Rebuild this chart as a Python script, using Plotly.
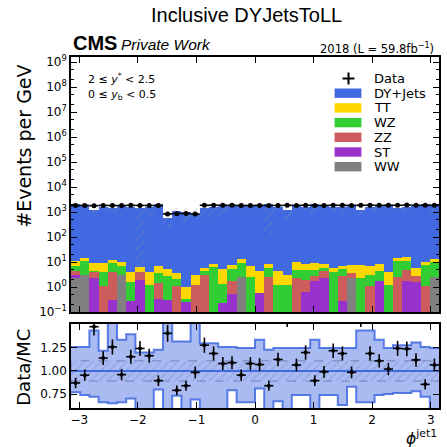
import numpy as np
import plotly.graph_objects as go

# ---------------- binning ----------------
n_bins = 40
edges = np.linspace(-np.pi, np.pi, n_bins + 1)
centers = 0.5 * (edges[:-1] + edges[1:])
bin_w = edges[1] - edges[0]

# ---------------- event counts per bin ----------------
data_counts = [1800, 1830, 1790, 1840, 1820, 1810, 1850, 1830, 1820, 1800,
               840, 860, 870, 830, 1860, 1880, 1870, 1850, 1830, 1820,
               1840, 1800, 1830, 1850, 1840, 1860, 1820, 1830, 1870, 1850,
               1840, 1860, 1880, 1850, 1870, 1860, 1890, 1870, 1850, 1860]

dy_jets = [2058, 1902, 1200, 1605, 1432, 1875, 1598, 1464, 1558, 2004,
           591, 1085, 1035, 840, 1447, 1571, 1726, 1690, 1903, 1678,
           1716, 2134, 1622, 1168, 1718, 1542, 2025, 1839, 1527, 1548,
           1861, 1170, 1573, 1659, 1829, 1479, 1508, 1664, 2154, 1733]

tt = [4.1, 3.9, 4.9, 4.9, 2.4, 3.1, 2.4, 2.3, 2.8, 3.1,
      2.7, 1.45, 0.68, 1.73, 1.7, 2.3, 3.75, 2.3, 4.0, 4.2,
      3.6, 2.8, 3.4, 1.73, 5.4, 3.5, 4.2, 2.8, 1.8, 1.5,
      3.8, 5.1, 4.0, 3.9, 3.0, 3.5, 4.8, 3.0, 2.6, 2.9]

wz = [2.7, 7.6, 0.2, 3.1, 5.3, 4.0, 1.3, 0.0, 1.23, 2.15,
      2.4, 1.08, 0.045, 0.0, 1.1, 6.3, 1.12, 3.4, 6.5, 2.5,
      0.0, 3.3, 1.17, 1.17, 2.3, 2.74, 2.1, 1.6, 4.0, 2.7,
      0.0, 2.3, 1.83, 2.5, 1.17, 8.5, 6.4, 0.0, 6.3, 7.5]

zz = [1.3, 0.0, 1.7, 1.07, 3.7, 0.0, 0.0, 2.14, 0.0, 1.13,
      0.0, 1.07, 0.0, 1.17, 3.1, 0.0, 0.0, 1.16, 0.0, 0.0,
      0.0, 2.5, 0.0, 0.0, 2.3, 1.23, 1.06, 1.9, 0.0, 2.43,
      1.3, 0.0, 1.07, 0.0, 0.0, 2.5, 2.9, 1.22, 1.07, 0.0]

st = [0.4, 0.0, 2.3, 0.0, 0.29, 0.0, 0.28, 1.86, 0.0, 0.32,
      0.29, 0.0, 0.275, 0.0, 0.0, 0.0, 0.23, 0.54, 0.0, 0.0,
      0.59, 0.0, 0.0, 0.0, 0.0, 0.63, 1.74, 2.3, 0.0, 0.27,
      0.0, 0.0, 0.0, 1.7, 0.0, 0.0, 1.7, 1.58, 0.0, 0.0]

ww = [2.5, 3.0, 0.0, 0.0, 0.0, 2.9, 0.0, 0.0, 0.0, 0.0,
      0.0, 0.0, 0.0, 0.0, 0.0, 0.0, 0.0, 0.0, 2.4, 0.0,
      0.0, 0.0, 0.0, 0.0, 0.0, 0.0, 0.0, 0.0, 0.0, 0.0,
      2.3, 0.0, 0.0, 0.0, 0.0, 0.0, 0.0, 0.0, 0.0, 2.5]

# relative MC uncertainty envelope (upper / lower edge as a fraction of the MC total)
mc_rel_up = [1.26, 1.26, 1.44, 1.22, 1.70, 1.34, 1.40, 1.20, 1.20, 1.23,
             1.70, 1.32, 1.32, 1.70, 1.30, 1.30, 1.26, 1.26, 1.25, 1.25,
             1.34, 1.23, 1.25, 1.25, 1.25, 1.25, 1.34, 1.25, 1.25, 1.25,
             1.25, 1.44, 1.44, 1.34, 1.25, 1.28, 1.28, 1.31, 1.26, 1.25]
mc_rel_down = [0.77, 0.74, 0.72, 0.66, 0.65, 0.66, 0.70, 0.002, 0.40, 0.80,
               0.40, 0.73, 0.40, 0.69, 0.45, 0.45, 0.45, 0.79, 0.66, 0.66,
               0.81, 0.06, 0.67, 0.45, 0.74, 0.74, 0.45, 0.74, 0.74, 0.63,
               0.83, 0.66, 0.66, 0.74, 0.75, 0.76, 0.76, 0.78, 0.72, 0.45]

syst_band = 0.11          # flat hatched band around unity
data_err_pct = 6.5        # error bar size on the data points (percent)

processes = [  # drawn bottom -> top
    ("WW", ww, "#808080"),
    ("ST", st, "#9932CC"),
    ("ZZ", zz, "#CD5C5C"),
    ("WZ", wz, "#32CD32"),
    ("TT", tt, "#FFD700"),
    ("DY+Jets", dy_jets, "#4169E1"),
]
legend_order = ["DY+Jets", "TT", "WZ", "ZZ", "ST", "WW"]

data_arr = np.array(data_counts, float)
mc_total = np.sum([np.array(v, float) for _, v, _ in processes], axis=0)
ratio = data_arr / mc_total


def steps(vals):
    xs, ys = [], []
    for i in range(n_bins):
        xs += [edges[i], edges[i + 1]]
        ys += [vals[i], vals[i]]
    return xs, ys


fig = go.Figure()

# ---------------- main panel ----------------
for name, vals, col in processes:
    fig.add_trace(go.Bar(x=centers, y=vals, width=bin_w, name=name,
                         marker=dict(color=col, line=dict(width=0)),
                         showlegend=False, xaxis="x", yaxis="y"))

up_abs = mc_total * np.array(mc_rel_up)
dn_abs = mc_total * np.array(mc_rel_down)
xu, yu = steps(up_abs)
xd, yd = steps(dn_abs)
fig.add_trace(go.Scatter(x=xu + xd[::-1], y=yu + yd[::-1], mode="lines",
                         fill="toself", fillcolor="rgba(0,0,0,0)",
                         fillpattern=dict(shape="/", fgcolor="rgba(150,150,150,0.75)",
                                          bgcolor="rgba(0,0,0,0)", size=7, solidity=0.15),
                         line=dict(width=0), showlegend=False, hoverinfo="skip",
                         xaxis="x", yaxis="y"))

fig.add_trace(go.Scatter(x=centers, y=data_arr, mode="markers",
                         marker=dict(color="black", size=5),
                         error_x=dict(type="constant", value=bin_w / 2, width=0,
                                      color="black", thickness=1.6),
                         error_y=dict(type="percent", value=data_err_pct, width=0,
                                      color="black", thickness=1.6),
                         showlegend=False, xaxis="x", yaxis="y"))

# ---------------- ratio panel ----------------
ru_x, ru_y = steps(mc_rel_up)
rd_x, rd_y = steps(mc_rel_down)
fig.add_trace(go.Scatter(x=ru_x + rd_x[::-1], y=ru_y + rd_y[::-1], mode="lines",
                         fill="toself", fillcolor="rgba(65,105,225,0.45)",
                         line=dict(width=0), showlegend=False, hoverinfo="skip",
                         xaxis="x2", yaxis="y2"))
for sx, sy in ((ru_x, ru_y), (rd_x, rd_y)):
    fig.add_trace(go.Scatter(x=sx, y=sy, mode="lines",
                             line=dict(color="rgba(65,105,225,0.85)", width=2),
                             showlegend=False, hoverinfo="skip",
                             xaxis="x2", yaxis="y2"))

xl, xr = edges[0], edges[-1]
fig.add_trace(go.Scatter(x=[xl, xr, xr, xl, xl],
                         y=[1 - syst_band, 1 - syst_band, 1 + syst_band, 1 + syst_band, 1 - syst_band],
                         mode="lines", fill="toself", fillcolor="rgba(0,0,0,0)",
                         fillpattern=dict(shape="/", fgcolor="rgba(70,90,170,0.45)",
                                          bgcolor="rgba(0,0,0,0)", size=6, solidity=0.2),
                         line=dict(color="rgba(80,90,140,0.55)", width=1, dash="dash"),
                         showlegend=False, hoverinfo="skip", xaxis="x2", yaxis="y2"))
fig.add_trace(go.Scatter(x=[xl, xr], y=[1, 1], mode="lines",
                         line=dict(color="#4169E1", width=2),
                         showlegend=False, hoverinfo="skip", xaxis="x2", yaxis="y2"))

fig.add_trace(go.Scatter(x=centers, y=ratio, mode="markers",
                         marker=dict(color="black", size=4),
                         error_x=dict(type="constant", value=bin_w / 2, width=0,
                                      color="black", thickness=1.6),
                         error_y=dict(type="percent", value=data_err_pct, width=0,
                                      color="black", thickness=1.6),
                         showlegend=False, xaxis="x2", yaxis="y2"))

# ---------------- layout ----------------
W, H = 447, 447
L, R, T, B = 71, 6, 57, 39
PW, PH = W - L - R, H - T - B


def px(x):
    return (x - L) / PW


def py(y):
    return (H - B - y) / PH


main_bottom = py(312)
ratio_top = py(324)

tick_font = dict(family="DejaVu Sans", size=12, color="black")
common_ax = dict(showline=True, linecolor="black", linewidth=1.5, mirror="allticks",
                 ticks="inside", ticklen=6, tickwidth=1, tickcolor="black",
                 showgrid=False, zeroline=False, tickfont=tick_font)

xticks = [-3, -2, -1, 0, 1, 2, 3]
xtick_text = ["\u22123", "\u22122", "\u22121", "0", "1", "2", "3"]
ydec = list(range(-1, 10))
ytick_vals = [10.0 ** k for k in ydec]
ytick_text = ["10<sup>%s</sup>" % (str(k).replace("-", "\u2212")) for k in ydec]

fig.update_layout(
    width=W, height=H, margin=dict(l=L, r=R, t=T, b=B),
    paper_bgcolor="white", plot_bgcolor="white",
    barmode="stack", bargap=0, showlegend=False,
    xaxis=dict(domain=[0, 1], anchor="y", range=[xl, xr], tickvals=xticks,
               showticklabels=False, matches="x2", **common_ax),
    yaxis=dict(domain=[main_bottom, 1], anchor="x", type="log", range=[-1, 9.2],
               tickvals=ytick_vals, ticktext=ytick_text,
               minor=dict(ticks="inside", ticklen=3, tickcolor="black", showgrid=False),
               **common_ax),
    xaxis2=dict(domain=[0, 1], anchor="y2", range=[xl, xr], tickvals=xticks,
                ticktext=xtick_text, **common_ax),
    yaxis2=dict(domain=[0, ratio_top], anchor="x2", range=[0.598, 1.51],
                tickvals=[0.75, 1.0, 1.25], ticktext=["0.75", "1.00", "1.25"],
                **common_ax),
)

ann = []
shapes = []


def text(x, y, s, size, family="DejaVu Sans", xanchor="left", yanchor="middle", angle=0):
    ann.append(dict(x=px(x), y=py(y), xref="paper", yref="paper", text=s,
                    showarrow=False, xanchor=xanchor, yanchor=yanchor, textangle=angle,
                    font=dict(family=family, size=size, color="black")))


text(247.5, 15, "Inclusive DYJetsToLL", 20, family="Liberation Sans", xanchor="center")
text(71, 43.5, "<b>CMS</b>", 20, family="Liberation Sans")
text(119, 44.5, "<i>Private Work</i>", 15.5, family="Liberation Sans")
text(438, 48, "2018 (L = 59.8fb<sup>\u22121</sup>)", 11.5, xanchor="right")
text(86, 79, "2 \u2264 <i>y</i><sup>*</sup> < 2.5", 11)
text(86, 95, "0 \u2264 <i>y</i><sub>b</sub> < 0.5", 11)
text(23, 63, "#Events per GeV", 19, xanchor="center", yanchor="top", angle=-90)
text(23, 327, "Data/MC", 18, xanchor="center", yanchor="top", angle=-90)
text(441, 450, "<i>\u03d5</i><sup>jet1</sup>", 15.5, xanchor="right", yanchor="bottom")

# legend
leg_y0 = 78.5
leg_dy = 14.7
colors = {n: c for n, _, c in processes}
cx = 350
shapes.append(dict(type="line", xref="paper", yref="paper", x0=px(cx - 6), x1=px(cx + 6),
                   y0=py(leg_y0), y1=py(leg_y0), line=dict(color="black", width=2)))
shapes.append(dict(type="line", xref="paper", yref="paper", x0=px(cx), x1=px(cx),
                   y0=py(leg_y0 - 6), y1=py(leg_y0 + 6), line=dict(color="black", width=2)))
text(374, leg_y0, "Data", 13)
for i, name in enumerate(legend_order):
    yc = leg_y0 + leg_dy * (i + 1)
    shapes.append(dict(type="rect", xref="paper", yref="paper",
                       x0=px(336), x1=px(363), y0=py(yc - 4.7), y1=py(yc + 4.7),
                       fillcolor=colors[name], line=dict(width=0)))
    text(374, yc, name, 13)

fig.update_layout(annotations=ann, shapes=shapes)
fig.write_html("out.html")
